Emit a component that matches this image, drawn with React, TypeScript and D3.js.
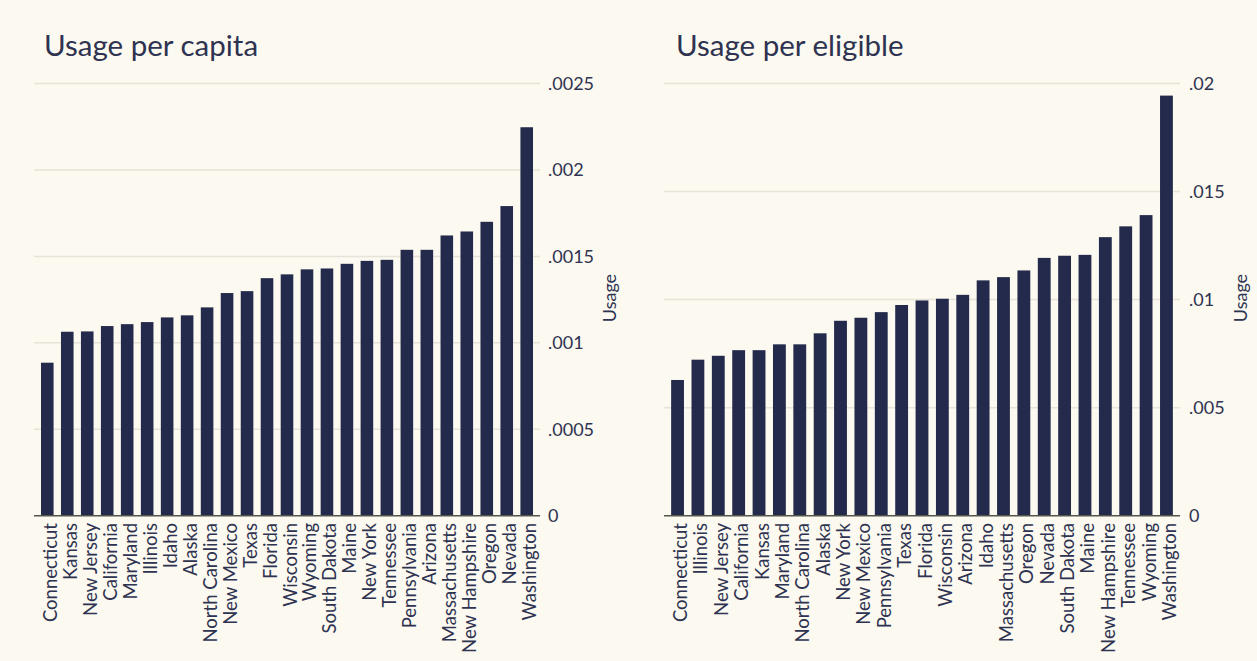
import React from "react";
import * as d3 from "d3";

const capitaStates = [
  "Connecticut", "Kansas", "New Jersey", "California", "Maryland", "Illinois", "Idaho", "Alaska",
  "North Carolina", "New Mexico", "Texas", "Florida", "Wisconsin", "Wyoming", "South Dakota", "Maine",
  "New York", "Tennessee", "Pennsylvania", "Arizona", "Massachusetts", "New Hampshire", "Oregon", "Nevada", "Washington",
];
const capitaValues = [
  0.000885, 0.001064, 0.001066, 0.001097, 0.001108, 0.00112, 0.001147, 0.001159,
  0.001205, 0.001288, 0.001299, 0.001374, 0.001396, 0.001425, 0.00143, 0.001457,
  0.001474, 0.00148, 0.001538, 0.001538, 0.001621, 0.001644, 0.0017, 0.001791, 0.002247,
];
const capitaTicks = [0, 0.0005, 0.001, 0.0015, 0.002, 0.0025];

const eligibleStates = [
  "Connecticut", "Illinois", "New Jersey", "California", "Kansas", "Maryland", "North Carolina", "Alaska",
  "New York", "New Mexico", "Pennsylvania", "Texas", "Florida", "Wisconsin", "Arizona", "Idaho",
  "Massachusetts", "Oregon", "Nevada", "South Dakota", "Maine", "New Hampshire", "Tennessee", "Wyoming", "Washington",
];
const eligibleValues = [
  0.00628, 0.00722, 0.0074, 0.00766, 0.00766, 0.00793, 0.00793, 0.00844,
  0.00902, 0.00916, 0.00942, 0.00975, 0.00996, 0.01004, 0.01022, 0.01089,
  0.01104, 0.01135, 0.01193, 0.01203, 0.01207, 0.01289, 0.01339, 0.01391, 0.01944,
];
const eligibleTicks = [0, 0.005, 0.01, 0.015, 0.02];

const titles = ["Usage per capita", "Usage per eligible"];
const axisTitle = "Usage";

const BG = "#FCF9F0";
const BAR = "#242A4B";
const TEXT = "#2E3351";
const GRID = "#E6E3D9";
const BASE = "#55564B";
const FONT = "Lato, 'Open Sans', sans-serif";

const fmt = (d: number) => (d === 0 ? "0" : String(d).replace(/^0/, ""));

type PanelProps = {
  title: string;
  states: string[];
  values: number[];
  ticks: number[];
  x0: number;
  x1: number;
  titleX: number;
  tickX: number;
  axisX: number;
};

function Panel({ title, states, values, ticks, x0, x1, titleX, tickX, axisX }: PanelProps) {
  const yTop = 83.5;
  const yBot = 515.7;
  const x = d3.scaleBand<string>().domain(states).range([x0, x1]).paddingInner(0.37).paddingOuter(0.35);
  const y = d3.scaleLinear().domain([0, ticks[ticks.length - 1]]).range([yBot, yTop]);
  return (
    <g>
      <text x={titleX} y={56} fill={TEXT} fontSize={29.5} fontFamily={FONT}>
        {title}
      </text>
      {ticks.filter((t) => t !== 0).map((t) => (
        <line key={"g" + t} x1={x0} x2={x1} y1={y(t)} y2={y(t)} stroke={GRID} strokeWidth={1.5} />
      ))}
      {states.map((s, i) => (
        <rect key={s} x={x(s)} y={y(values[i])} width={x.bandwidth()} height={y(0) - y(values[i])} fill={BAR} />
      ))}
      <line x1={x0} x2={x1} y1={y(0)} y2={y(0)} stroke={BASE} strokeWidth={1.5} />
      {ticks.map((t) => (
        <text key={"t" + t} x={tickX} y={y(t)} dy="0.36em" fill={TEXT} fontSize={18} fontFamily={FONT}>
          {fmt(t)}
        </text>
      ))}
      {states.map((s) => {
        const cx = (x(s) as number) + x.bandwidth() / 2 + 9.5;
        return (
          <text
            key={"l" + s}
            transform={`translate(${cx},${523}) rotate(-90)`}
            textAnchor="end"
            fill={TEXT}
            fontSize={18.5}
            fontFamily={FONT}
          >
            {s}
          </text>
        );
      })}
      <text
        transform={`translate(${axisX},${298}) rotate(-90)`}
        textAnchor="middle"
        fill={TEXT}
        fontSize={18}
        fontFamily={FONT}
      >
        {axisTitle}
      </text>
    </g>
  );
}

export default function App() {
  React.useEffect(() => {
    document.body.style.margin = "0";
    document.body.style.background = BG;
  }, []);
  return (
    <svg width={1257} height={661} style={{ display: "block", position: "absolute", left: 0, top: 0 }}>
      <rect x={0} y={0} width={1257} height={661} fill={BG} />
      <Panel
        title={titles[0]}
        states={capitaStates}
        values={capitaValues}
        ticks={capitaTicks}
        x0={34}
        x1={540}
        titleX={44}
        tickX={548}
        axisX={616}
      />
      <Panel
        title={titles[1]}
        states={eligibleStates}
        values={eligibleValues}
        ticks={eligibleTicks}
        x0={664}
        x1={1180}
        titleX={676}
        tickX={1189}
        axisX={1247}
      />
    </svg>
  );
}
